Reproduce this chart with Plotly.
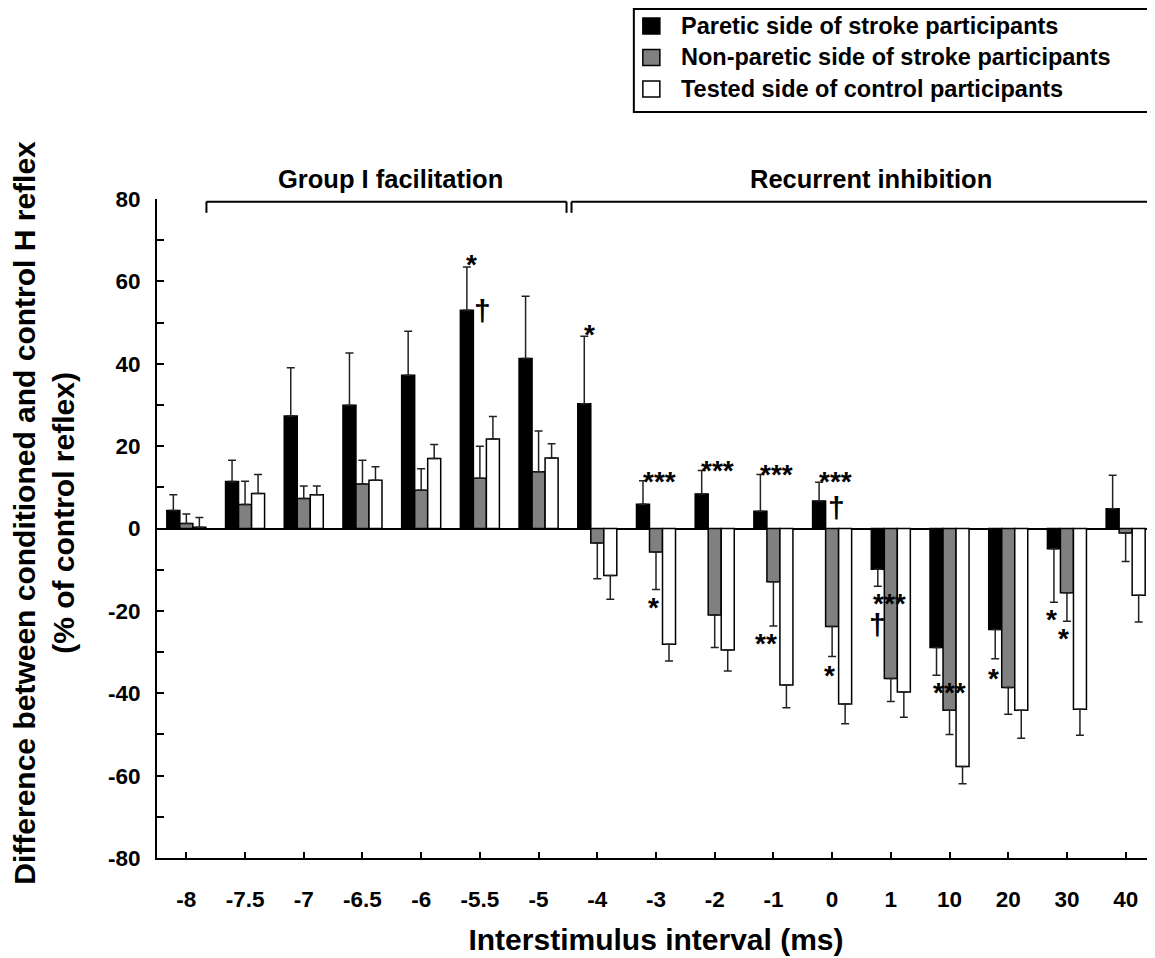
import plotly.graph_objects as go

# ---------------- data ----------------
categories = ["-8", "-7.5", "-7", "-6.5", "-6", "-5.5", "-5", "-4", "-3", "-2",
              "-1", "0", "1", "10", "20", "30", "40"]

paretic = [4.4, 11.4, 27.3, 29.9, 37.2, 53.0, 41.3, 30.3, 5.9, 8.4, 4.2, 6.7,
           -9.9, -28.9, -24.5, -4.9, 4.8]
paretic_err = [3.8, 5.2, 11.7, 12.7, 10.7, 10.5, 15.1, 16.4, 5.7, 5.7, 8.9, 4.5,
               4.1, 6.7, 7.1, 13.0, 8.1]

nonparetic = [1.2, 5.8, 7.3, 10.8, 9.3, 12.2, 13.8, -3.5, -5.7, -21.0, -12.9, -23.8,
              -36.4, -44.1, -38.6, -15.6, -1.1]
nonparetic_err = [2.3, 5.7, 3.0, 5.8, 5.2, 7.8, 9.9, 8.7, 9.1, 7.9, 10.8, 7.3,
                  5.6, 5.9, 6.5, 6.9, 6.9]

control = [0.3, 8.5, 8.2, 11.7, 17.0, 21.7, 17.1, -11.4, -28.1, -29.5, -38.0, -42.6,
           -39.7, -57.8, -44.1, -43.9, -16.2]
control_err = [2.4, 4.6, 2.1, 3.3, 3.4, 5.5, 3.5, 5.8, 4.1, 5.1, 5.5, 4.8,
               6.1, 4.2, 6.8, 6.3, 6.5]

series_names = ["Paretic side of stroke participants",
                "Non-paretic side of stroke participants",
                "Tested side of control participants"]

# significance markers: (category, value, text)
markers = [
    ("-5.5", 65.7, "*"), ("-5.5", 53.5, "†"), ("-4", 48.9, "*"),
    ("-3", 13.2, "***"), ("-3", -17.6, "*"), ("-2", 15.9, "***"),
    ("-1", 14.9, "***"), ("-1", -26.3, "**"), ("0", 13.2, "***"),
    ("0", 5.7, "†"), ("0", -33.9, "*"), ("1", -16.6, "***"),
    ("1", -22.7, "†"), ("10", -38.0, "***"), ("20", -34.6, "*"),
    ("30", -20.5, "*"), ("30", -25.1, "*"),
]
marker_dx = [-8, 3, -8, 3, -3, 3, 3, -7, 3, 4, -3, -1, -13, 0, -15, -15, -3]

FONT = "Liberation Sans, Arial, sans-serif"
colors = ["#000000", "#808080", "#ffffff"]

fig = go.Figure()
for name, vals, errs, col in zip(series_names,
                                 [paretic, nonparetic, control],
                                 [paretic_err, nonparetic_err, control_err],
                                 colors):
    up = [e if v >= 0 else 0 for v, e in zip(vals, errs)]
    dn = [e if v < 0 else 0 for v, e in zip(vals, errs)]
    fig.add_trace(go.Bar(
        x=categories, y=vals, name=name, showlegend=False,
        marker=dict(color=col, line=dict(color="black", width=1.5)),
        error_y=dict(type="data", symmetric=False, array=up, arrayminus=dn,
                     color="#222222", thickness=1.5, width=4),
    ))

ann = []
for (cat, val, txt), dx in zip(markers, marker_dx):
    dag = txt == "†"
    ann.append(dict(x=categories.index(cat), y=val, xref="x", yref="y", text=txt,
                    showarrow=False, xanchor="center", yanchor="middle",
                    xshift=dx, yshift=(-2 if dag else -7),
                    font=dict(family=FONT, size=(30 if dag else 28), color="black",
                              weight="bold")))

# group labels
ann.append(dict(x=3.48, y=1.030, xref="x", yref="paper", text="Group I facilitation",
                showarrow=False, xanchor="center", yanchor="middle",
                font=dict(family=FONT, size=25.5, color="black", weight="bold")))
ann.append(dict(x=11.67, y=1.030, xref="x", yref="paper", text="Recurrent inhibition",
                showarrow=False, xanchor="center", yanchor="middle",
                font=dict(family=FONT, size=25.5, color="black", weight="bold")))

shapes = []
# brackets
for x0, x1, right_end in [(0.342, 6.476, True), (6.561, 16.6, False)]:
    shapes.append(dict(type="line", xref="x", yref="paper", x0=x0, x1=x1, y0=0.996, y1=0.996,
                       line=dict(color="black", width=2)))
    shapes.append(dict(type="line", xref="x", yref="paper", x0=x0, x1=x0, y0=0.996, y1=0.979,
                       line=dict(color="black", width=2)))
    if right_end:
        shapes.append(dict(type="line", xref="x", yref="paper", x0=x1, x1=x1, y0=0.996, y1=0.979,
                           line=dict(color="black", width=2)))

# custom legend (positions in screen pixels relative to plot area)
W = 997.7
H = 659.0
def px_x(p):
    return (p - 157.3) / W
def px_y(p):
    return (858.0 - p) / H

shapes.append(dict(type="rect", xref="paper", yref="paper", x0=px_x(634), x1=px_x(1154),
                   y0=px_y(112), y1=px_y(9), line=dict(color="black", width=2),
                   fillcolor="white"))
for i, (name, col) in enumerate(zip(series_names, colors)):
    cy = 26 + i * 31.5
    shapes.append(dict(type="rect", xref="paper", yref="paper", x0=px_x(643), x1=px_x(660),
                       y0=px_y(cy + 8), y1=px_y(cy - 8), fillcolor=col,
                       line=dict(color="black", width=1.5)))
    ann.append(dict(x=px_x(679), y=px_y(cy), xref="paper", yref="paper", text=name,
                    xanchor="left", yanchor="middle", showarrow=False,
                    font=dict(family=FONT, size=23.5, color="black", weight="bold")))

# y-axis title (two lines, rotated)
ann.append(dict(x=px_x(44), y=px_y(513), xref="paper", yref="paper",
                text="Difference between conditioned and control H reflex<br>(% of control reflex)",
                textangle=-90, showarrow=False, xanchor="center", yanchor="middle",
                font=dict(family=FONT, size=30, color="black", weight="bold")))

yt_vals = list(range(-80, 81, 10))
yt_text = [str(v) if v % 20 == 0 else "" for v in yt_vals]

fig.update_layout(
    width=1147, height=950,
    margin=dict(l=149, r=0, t=191, b=100),
    paper_bgcolor="white", plot_bgcolor="white",
    barmode="group", bargap=0.335, bargroupgap=0,
    font=dict(family=FONT, size=22, color="black", weight="bold"),
    annotations=ann, shapes=shapes,
    xaxis=dict(type="category", range=[-0.5, 16.5], showline=True, linecolor="black",
               linewidth=2, ticks="inside", ticklen=6, tickwidth=1.5, tickcolor="black",
               showgrid=False, zeroline=False, ticklabelstandoff=20,
               tickfont=dict(family=FONT, size=22.5, color="black", weight="bold"),
               title=dict(text="Interstimulus interval (ms)", standoff=18,
                          font=dict(family=FONT, size=30, color="black", weight="bold"))),
    yaxis=dict(range=[-80, 80], showline=True, linecolor="black", linewidth=2,
               ticks="inside", ticklen=7, tickwidth=1.5, tickcolor="black",
               tickvals=yt_vals, ticktext=yt_text, showgrid=False,
               zeroline=True, zerolinecolor="black", zerolinewidth=2,
               ticklabelstandoff=10,
               tickfont=dict(family=FONT, size=22.5, color="black", weight="bold")),
)

fig.write_html("out.html")
